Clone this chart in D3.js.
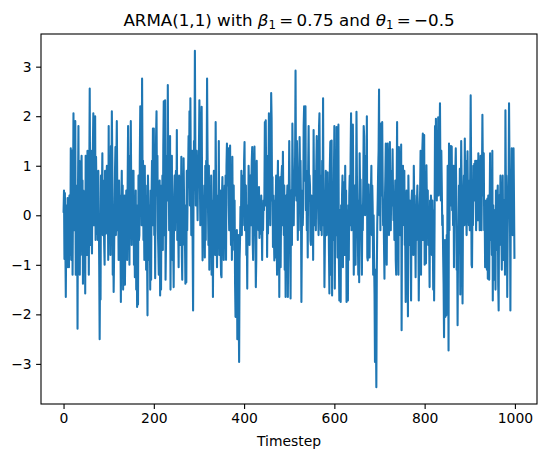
<!DOCTYPE html>
<html>
<head>
<meta charset="utf-8">
<script src="https://cdn.jsdelivr.net/npm/d3@7/dist/d3.min.js"></script>
<style>
  html, body { margin: 0; padding: 0; background: #fff; }
  svg { display: block; font-family: "DejaVu Sans", sans-serif; }
</style>
</head>
<body>
<svg id="chart" width="546" height="457"></svg>
<script>
// ARMA(1,1) series values (timestep 0..999, 25 per row)
const seriesValues = [
  0.05, 0.5, -0.88, 0.45, -0.6, -1.65, -0.3, 0.2, -1.05, 0.35, -0.55, 0.3, -1.05, 0.4, -0.2, -0.8, 1.35, -0.9, 0.6, 1.3, -1.2, 0.4, 2.06, -0.3, 1.35,
  -0.2, 1.9, -1.2, 0.6, -0.5, 0.3, -2.29, 0.5, 1.8, -0.6, 1.1, -1.2, 0.3, -0.8, 0.9, 1.2, -0.4, 0.7, -1.38, 0.5, 0.3, -0.9, 0.2, -1.58, 1.2,
  -0.2, 0.6, -0.8, 1.3, -0.5, 0.4, -1.2, 0.8, 2.56, 0.2, -0.6, 1.3, -0.3, -0.77, 0.9, 1.4, 2.06, -0.2, 1.0, 0.4, 2.0, -0.5, 1.18, 0.5, -0.37,
  0.6, -0.5, 0.9, 0.1, -1.0, -2.5, -0.9, -1.7, 0.8, -0.2, 0.5, 1.25, -0.4, 0.7, 0.3, -0.6, -1.0, 0.9, 0.4, -0.37, 0.6, 1.0, -0.3, 0.5, -0.9,
  1.8, -0.5, 1.0, 0.3, -0.8, 1.4, 0.2, 2.1, 1.1, -1.2, -0.3, -1.55, -0.8, 0.2, 0.9, 1.38, -0.4, 1.1, 1.9, 0.6, -0.3, 0.5, -0.9, 0.7, -0.9,
  0.4, -0.3, -1.75, 0.2, 0.9, -0.6, 0.6, -1.5, 0.3, -0.8, 0.4, -1.4, -0.4, -0.2, 0.5, 0.3, -0.9, 0.6, 1.8, -0.2, 0.5, -1.0, 1.2, 0.4, 1.9,
  0.4, -0.6, 0.9, -0.3, 0.4, 0.9, -1.0, 0.2, -1.25, -0.6, 0.5, -1.5, -0.3, -1.85, 0.2, -1.8, 0.8, -0.5, -0.4, 1.2, 2.2, 0.3, 1.4, -0.2, 2.76,
  0.9, 1.1, -0.5, 0.2, -0.9, 1.0, -0.3, 0.6, -1.1, 0.4, -0.7, -2.02, 0.8, 0.3, -0.5, -0.9, 0.2, -1.5, 0.5, -1.3, 0.4, 1.1, -0.2, 1.75, 0.3,
  1.75, -0.4, 0.6, -1.27, 0.8, 1.6, 2.1, 0.4, 1.2, -0.3, -0.7, -1.2, 0.2, 0.7, -1.62, 0.3, -1.5, 0.6, -0.2, 0.8, -0.7, 1.4, 2.3, -0.4, 0.65,
  2.32, -1.3, -0.6, 0.4, 1.2, 0.3, 2.63, 0.8, 1.18, -0.3, 0.5, 1.6, -1.5, 0.9, -0.5, 1.2, -0.9, 0.3, -0.6, -1.45, 0.4, 0.8, -0.3, 0.6, 0.9,
  -0.1, 1.72, -0.5, 0.6, -0.2, -1.05, 0.8, 0.3, 0.5, -0.6, 0.2, 1.18, -0.8, -1.3, 0.5, -0.4, 1.15, 0.3, -0.6, -0.5, -1.38, 0.2, -1.35, 0.9, -0.3,
  0.5, 0.9, 1.6, 0.6, 2.1, 0.2, 2.36, 1.0, -0.4, 0.7, 1.3, -0.6, -1.92, 0.4, 1.5, 0.8, 3.32, 1.4, 0.2, 0.44, 1.3, 0.5, -0.1, 1.0, 0.6,
  1.4, 2.32, 0.8, -0.2, 0.9, 1.6, 2.19, 0.5, -0.91, 0.4, -0.5, -0.3, 0.6, -0.85, 1.0, -0.5, 1.1, 0.7, 2.76, 1.3, 0.2, -0.6, 1.0, -1.1, 0.3,
  0.4, -0.5, 0.8, -1.2, -0.2, 0.3, -1.65, 0.2, 0.9, -0.4, 0.6, -0.8, 1.88, 0.5, -0.3, -1.05, 0.2, 0.4, -0.6, 1.5, -0.8, 0.1, 0.5, -0.7, -1.2,
  -1.25, 0.4, 0.77, -0.5, 0.3, -0.9, 0.2, 0.6, -0.4, 0.8, -0.9, 1.0, 1.45, 0.6, 0.9, 1.35, 0.2, -0.3, 0.5, 1.41, 0.1, -0.6, 0.3, -0.9, 1.18,
  -0.5, -0.1, 0.6, -0.7, 0.3, -1.38, -2.05, -0.6, -1.5, -0.3, -2.5, -1.1, -0.4, -1.8, -2.96, -0.9, -0.5, 0.17, -0.3, 0.9, -0.4, 0.4, -0.2, 0.8, 0.1,
  1.1, 1.48, -0.3, -0.2, 0.6, -0.8, -0.37, -1.48, 0.2, -0.3, 1.0, 0.5, -0.6, 0.3, 0.8, -0.2, 0.6, 1.1, 1.38, -0.5, -0.9, 0.2, 0.9, 1.39, 0.4,
  -0.3, -1.45, -0.9, 1.1, -0.2, 0.1, 0.14, -0.3, 0.57, -0.46, 0.1, -0.37, -0.2, 0.4, -0.1, -0.9, 0.2, -0.3, 0.3, 0.1, 0.4, 1.88, 0.2, 1.92, 0.6,
  1.2, -0.84, 0.3, -0.37, 0.8, 2.06, 0.5, 1.3, -0.2, 0.8, 2.47, 1.95, 0.3, 0.77, -0.64, 0.4, -0.3, -0.91, 0.3, -0.85, 0.2, 0.8, -0.1, -1.2, 0.5,
  1.1, -0.6, 0.2, -1.65, 0.3, 0.77, -1.05, 0.1, 0.8, 1.0, -0.2, 1.28, 0.3, -0.4, 0.6, -1.1, 0.2, -1.65, 0.4, -0.5, 0.3, 0.6, -1.65, 0.0, 0.3,
  1.5, 0.6, -0.6, -1.68, 0.5, 0.2, -0.6, 1.85, 0.9, 0.3, -0.2, 0.7, 0.4, 1.2, 2.92, 0.8, 0.3, 1.5, 0.9, -0.5, 0.6, -0.3, 0.4, 1.58, 0.8,
  1.1, 0.3, -1.75, -0.4, 0.5, -0.2, 0.2, 1.8, 2.2, 0.7, 1.5, 2.2, 0.1, 0.9, -0.3, 0.5, -0.85, 1.0, 1.8, 0.3, 0.8, 0.6, -0.5, -0.6, 0.4,
  -0.2, -0.5, 0.3, -0.9, 1.72, 0.4, 0.1, -0.2, 0.9, -0.3, 1.0, 1.6, 0.4, 1.5, 0.1, -0.4, 1.78, 2.06, 0.6, 0.24, -0.3, 0.8, -0.4, 1.1, 0.2,
  2.36, -0.2, 0.5, -1.45, -0.6, 0.3, 0.9, -0.3, -0.4, 0.3, 0.87, -0.2, 0.5, -0.7, -1.58, 1.0, 1.48, 1.5, -1.2, 1.51, -1.62, 0.2, 0.6, -0.5, 0.8,
  1.8, -1.48, 0.3, 0.9, -0.4, 1.78, 0.6, -0.85, -0.3, 1.83, -0.9, -1.72, 0.1, -0.5, -1.75, 0.2, -0.6, 0.4, 0.8, -1.05, 0.67, -0.4, 0.3, -0.8, 1.0,
  -0.3, 0.5, -1.75, 0.1, -0.5, -1.72, 0.2, -0.9, 0.4, 0.8, -0.2, 1.21, 2.06, -0.3, 0.6, 1.25, 1.83, 0.4, -1.2, -0.2, 0.6, -0.1, -1.0, 0.3, 2.09,
  0.8, 0.2, -0.4, -1.2, 0.3, -1.35, 1.25, 0.5, 0.72, -0.1, -0.5, -1.2, 0.2, -0.3, 0.6, 1.8, 1.6, 0.4, 0.0, 0.6, 1.2, 0.3, 2.0, -0.85, -0.91,
  0.2, 0.62, -0.2, -0.85, 0.3, -0.1, 0.5, 1.0, -0.4, 0.6, 0.1, -1.2, 0.0, -0.9, -1.6, -2.96, -1.1, -2.2, -3.47, -1.2, -0.2, 0.3, 0.9, 1.3, 2.54,
  0.0, 1.25, -0.3, 1.85, 0.4, 0.5, 1.88, 0.7, -0.2, 0.2, -0.6, -1.28, 0.3, 0.8, 1.45, -0.2, -1.0, 0.4, 1.45, 0.6, 0.3, -0.4, 0.9, 1.48, 0.5,
  -0.3, 0.6, 0.9, 0.2, 1.33, 0.4, -0.1, 0.3, -0.5, 0.2, 0.7, -0.9, -1.2, 0.5, 1.88, -0.6, 0.4, -1.2, 1.38, 0.3, 0.6, -0.4, 0.8, 1.43, -2.32,
  0.2, 0.6, 1.0, 0.3, -0.2, 0.9, -0.6, -0.5, -1.75, 0.1, 0.5, 0.2, -0.3, -2.04, 0.8, 0.1, -0.6, 0.3, 0.2, -0.7, -1.72, 0.3, 0.5, -0.4, 0.2,
  -0.8, 1.0, 0.3, 0.4, -0.3, -1.25, 0.2, -0.5, 0.3, 0.6, -0.4, 0.1, -1.72, -0.7, 0.2, 0.5, 1.3, -1.2, 0.6, -0.5, 1.35, 1.65, -0.5, 1.0, 1.62,
  -1.0, 0.3, 0.5, -0.97, 1.01, 0.2, -0.3, 0.5, -0.6, 0.1, -0.4, -1.45, 0.3, -0.2, 0.4, 0.2, -0.8, 0.3, -0.3, -1.5, 0.1, -1.72, -0.2, 1.8, 0.5,
  1.95, 0.6, 0.3, 1.2, 0.5, 1.98, 0.4, 0.9, 1.5, 2.26, 0.8, 0.3, 1.3, 0.6, -0.2, 0.0, -0.8, -1.4, -2.46, -1.0, -0.5, -2.05, -0.7, -2.02, -0.4,
  -0.9, 1.0, -0.6, -2.73, 1.45, -0.3, 0.97, 0.2, 1.4, 0.8, 1.39, 0.1, 0.5, -0.2, 1.0, -1.05, 0.3, 0.4, 0.9, 1.35, 0.5, -1.1, -0.4, -2.22, -0.8,
  -0.3, 0.6, -0.2, 0.94, -1.6, 0.2, 1.5, 0.6, -0.5, -1.78, 0.1, 0.3, 0.8, -0.2, 1.55, 0.4, 1.1, 0.2, -0.4, 0.6, 1.29, 0.3, 0.5, -0.2, 0.7,
  -0.3, 0.9, 2.42, 1.0, -1.0, -1.05, 0.3, -0.2, 1.0, 0.6, 1.04, 0.3, 1.1, 0.5, -0.3, 0.2, 1.1, 1.0, -0.1, 1.25, 0.7, 0.6, -0.3, 0.2, 1.2,
  0.3, -0.3, 0.8, 2.03, 0.9, 0.4, 1.25, -0.3, 0.1, -1.05, 0.2, 0.3, -0.4, -1.1, 0.34, -1.28, 0.4, -0.2, -1.3, 0.1, 1.25, -0.5, 0.4, 0.0, -0.8,
  1.3, -1.72, 0.2, -0.6, -1.3, 0.1, -0.4, -1.5, 0.5, -0.7, 0.5, 0.3, 0.6, -1.4, -1.92, 0.4, -0.6, 0.1, 0.8, -0.2, -0.3, -1.1, 0.2, 0.8, -0.5,
  -0.9, 0.3, -0.2, -1.2, 2.12, 0.6, 0.8, 0.3, -1.65, -0.4, 0.3, 0.5, 2.26, 1.0, 0.2, -1.92, 0.5, -0.3, 1.35, 0.2, -0.4, 0.5, 1.35, 0.3, -0.88
];
const xTicks = [0, 200, 400, 600, 800, 1000];
const yTicks = [-3, -2, -1, 0, 1, 2, 3];
const xLabel = "Timestep";

const svg = d3.select("#chart");
const L = 41, R = 537, T = 34, B = 404;
const n = seriesValues.length;
const xPad = (n - 1) * 0.05;
const x = d3.scaleLinear().domain([-xPad, (n - 1) + xPad]).range([L, R]);
const [ymin, ymax] = d3.extent(seriesValues);
const yPad = (ymax - ymin) * 0.05;
const y = d3.scaleLinear().domain([ymin - yPad, ymax + yPad]).range([B, T]);

const fmt = v => (v < 0 ? "\u2212" + Math.abs(v) : String(v));

// line
svg.append("path")
  .datum(seriesValues)
  .attr("fill", "none")
  .attr("stroke", "#1f77b4")
  .attr("stroke-width", 2.08)
  .attr("stroke-linejoin", "round")
  .attr("stroke-linecap", "butt")
  .attr("d", d3.line().x((d, i) => x(i)).y(d => y(d)));

// axes
const xAxis = d3.axisBottom(x).tickValues(xTicks).tickSize(4.9).tickPadding(4.4).tickFormat(fmt);
const yAxis = d3.axisLeft(y).tickValues(yTicks).tickSize(4.9).tickPadding(4.4).tickFormat(fmt);
const gx = svg.append("g").attr("transform", `translate(0,${B})`).call(xAxis);
const gy = svg.append("g").attr("transform", `translate(${L},0)`).call(yAxis);
[gx, gy].forEach(g => {
  g.select(".domain").remove();
  g.selectAll(".tick line").attr("stroke", "#000").attr("stroke-width", 1.1);
  g.selectAll(".tick text").attr("fill", "#000").attr("font-size", 13.9).attr("font-family", "DejaVu Sans");
});

// spines
svg.append("rect")
  .attr("x", L).attr("y", T).attr("width", R - L).attr("height", B - T)
  .attr("fill", "none").attr("stroke", "#000").attr("stroke-width", 1.1);

// x label
svg.append("text")
  .attr("x", (L + R) / 2).attr("y", 446)
  .attr("text-anchor", "middle")
  .attr("font-size", 13.9)
  .attr("fill", "#000")
  .text(xLabel);

// title
const title = svg.append("text")
  .attr("x", (L + R) / 2).attr("y", 26)
  .attr("text-anchor", "middle")
  .attr("font-size", 16.7)
  .attr("fill", "#000");
title.append("tspan").text("ARMA(1,1) with ");
title.append("tspan").attr("font-style", "italic").text("\u03B2");
title.append("tspan").attr("font-size", 11.7).attr("dy", 2.5).text("1");
title.append("tspan").attr("dy", -2.5).text("\u2009=\u20090.75 and ");
title.append("tspan").attr("font-style", "italic").text("\u03B8");
title.append("tspan").attr("font-size", 11.7).attr("dy", 2.5).text("1");
title.append("tspan").attr("dy", -2.5).text("\u2009=\u2009\u22120.5");
</script>
</body>
</html>
